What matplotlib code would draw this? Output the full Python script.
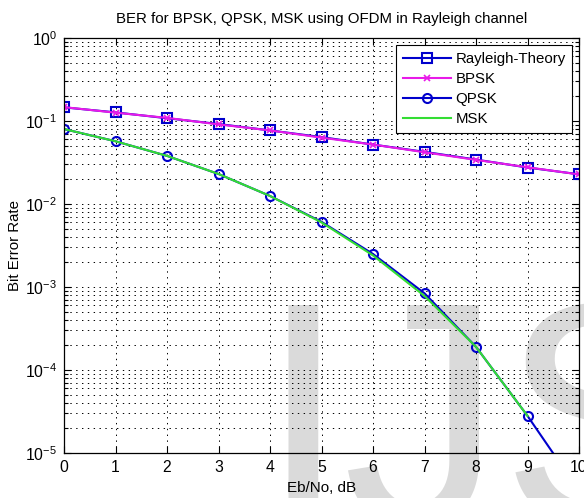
import numpy as np
import matplotlib
matplotlib.use("Agg")
import matplotlib.pyplot as plt
from matplotlib.ticker import LogLocator, NullFormatter, FixedLocator

plt.rcParams['font.family'] = ['Liberation Sans', 'DejaVu Sans']
plt.rcParams['mathtext.default'] = 'regular'
plt.rcParams['lines.scale_dashes'] = False

# ---- data ----
ebno_db = [0, 1, 2, 3, 4, 5, 6, 7, 8, 9, 10]
rayleigh_theory = [0.146, 0.127, 0.108, 0.092, 0.077, 0.064, 0.052, 0.0425, 0.0343, 0.0275, 0.0228]
bpsk = [0.147, 0.126, 0.109, 0.091, 0.077, 0.063, 0.052, 0.042, 0.034, 0.0277, 0.0227]
qpsk = [0.080, 0.057, 0.038, 0.023, 0.0125, 0.0061, 0.0025, 0.00084, 0.00019, 2.8e-5, 3.5e-6]
msk_ebno_db = [0, 1, 2, 3, 4, 5, 6, 7, 8, 9]
msk = [0.080, 0.057, 0.038, 0.023, 0.0125, 0.0060, 0.0024, 0.00078, 0.00019, 2.8e-5]
x_ticks = [0, 1, 2, 3, 4, 5, 6, 7, 8, 9, 10]
legend_labels = ['Rayleigh-Theory', 'BPSK', 'QPSK', 'MSK']

BLUE = '#0000cc'
MAGENTA = '#e81ae8'
GREEN = '#33dd33'

W, H = 584, 498
fig = plt.figure(figsize=(W / 100, H / 100), dpi=100)
fig.patch.set_facecolor('white')
left, right, top, bottom = 64, 579, 38, 453
ax = fig.add_axes([left / W, 1 - bottom / H, (right - left) / W, (bottom - top) / H])
ax.patch.set_visible(False)

# watermark (behind everything)
wm_kw = dict(fontsize=230, color='#dadada', zorder=-5, va='baseline', ha='left')
fig.text(259 / W, 1 - 525 / H, 'I', **wm_kw)
fig.text(343 / W, 1 - 525 / H, 'J', **wm_kw)
fig.text(501 / W, 1 - 525 / H, 'S', **wm_kw)

l1, = ax.semilogy(ebno_db, rayleigh_theory, color=BLUE, lw=1.5, marker='s', ms=7.5,
                  mfc='none', mec=BLUE, mew=1.5, label=legend_labels[0])
l2, = ax.semilogy(ebno_db, bpsk, color=MAGENTA, lw=1.5, marker='x', ms=4.5,
                  mec=MAGENTA, mew=1.2, label=legend_labels[1])
l3, = ax.semilogy(ebno_db, qpsk, color=BLUE, lw=1.5, marker='o', ms=6.5,
                  mfc='none', mec=BLUE, mew=1.5, label=legend_labels[2])
l4, = ax.semilogy(msk_ebno_db, msk, color=GREEN, lw=1.5, label=legend_labels[3])

ax.set_xlim(0, 10)
ax.set_ylim(1e-5, 1)
ax.xaxis.set_major_locator(FixedLocator(x_ticks))
ax.set_xticklabels([str(t) for t in x_ticks])
ax.yaxis.set_major_locator(LogLocator(base=10, numticks=10))
ax.yaxis.set_minor_locator(LogLocator(base=10, subs=np.arange(2, 10), numticks=20))
ax.yaxis.set_minor_formatter(NullFormatter())

ax.grid(True, which='major', axis='both', color='black', linestyle=(0, (1.0, 3.2)), lw=0.7)
ax.grid(True, which='minor', axis='y', color='black', linestyle=(0, (1.0, 3.2)), lw=0.7)
ax.set_axisbelow(True)

ax.tick_params(which='both', direction='in', top=True, right=True, colors='black',
               labelsize=11.3, width=0.8)
ax.tick_params(which='major', length=5, pad=5)
ax.tick_params(which='minor', length=3)
for s in ax.spines.values():
    s.set_color('black')
    s.set_linewidth(0.9)

ax.set_title('BER for BPSK, QPSK, MSK using OFDM in Rayleigh channel', fontsize=10.8, pad=11)
ax.set_xlabel('Eb/No, dB', fontsize=11, labelpad=4)
ax.set_ylabel('Bit Error Rate', fontsize=10.8, labelpad=2)

leg = ax.legend(handles=[l1, l2, l3, l4], loc='upper right', bbox_to_anchor=(0.987, 0.983),
                borderaxespad=0, fontsize=10.8, fancybox=False, framealpha=1,
                edgecolor='black', handlelength=3.2, labelspacing=0.4,
                handletextpad=0.3, borderpad=0.45)
leg.get_frame().set_linewidth(0.8)

fig.savefig('out.png', dpi=100, facecolor='white')
